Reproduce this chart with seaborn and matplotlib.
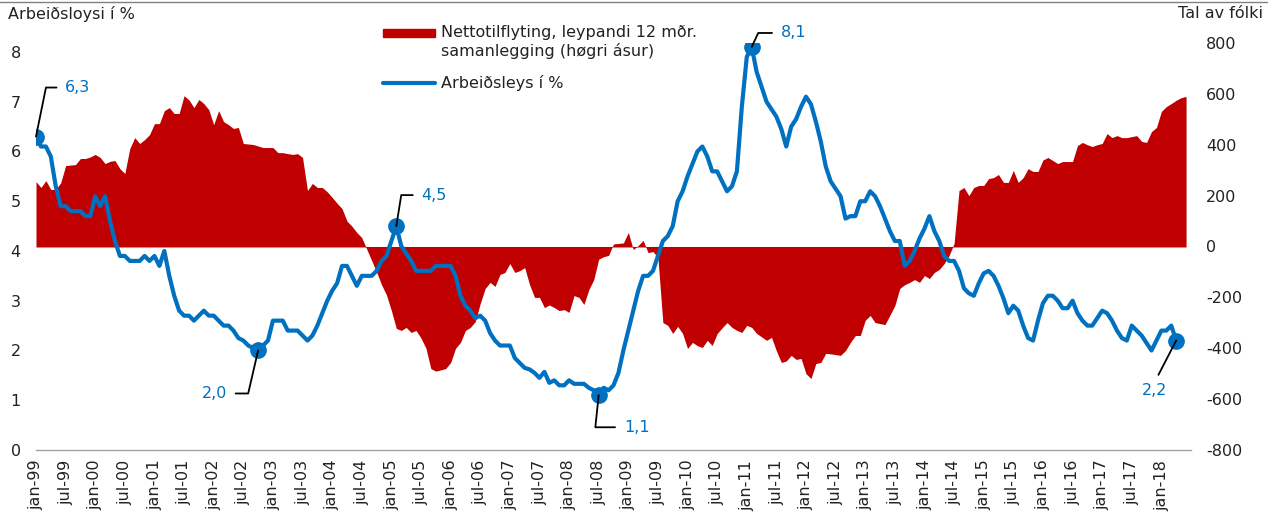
# plot.py
import numpy as np
import pandas as pd
import matplotlib
matplotlib.use('Agg')  # no display
import matplotlib.pyplot as plt
import seaborn as sns
from matplotlib.lines import Line2D
from matplotlib.patches import Rectangle

# Arbeiðsloysi í %, monthly from jan-99 to apr-18
unemployment = [
    6.3, 6.1, 6.1, 5.9, 5.3, 4.9, 4.9, 4.8, 4.8, 4.8, 4.7, 4.7,
    5.1, 4.9, 5.1, 4.6, 4.2, 3.9, 3.9, 3.8, 3.8, 3.8, 3.9, 3.8,
    3.9, 3.7, 4.0, 3.5, 3.1, 2.8, 2.7, 2.7, 2.6, 2.7, 2.8, 2.7,
    2.7, 2.6, 2.5, 2.5, 2.4, 2.25, 2.2, 2.1, 2.05, 2.0, 2.1, 2.2,
    2.6, 2.6, 2.6, 2.4, 2.4, 2.4, 2.3, 2.2, 2.3, 2.5, 2.75, 3.0,
    3.2, 3.35, 3.7, 3.7, 3.5, 3.3, 3.5, 3.5, 3.5, 3.6, 3.8, 3.9,
    4.2, 4.5, 4.1, 3.95, 3.8, 3.6, 3.6, 3.6, 3.6, 3.7, 3.7, 3.7,
    3.7, 3.5, 3.1, 2.9, 2.8, 2.65, 2.7, 2.6, 2.35, 2.2, 2.1, 2.1,
    2.1, 1.85, 1.75, 1.65, 1.62, 1.55, 1.45, 1.57, 1.35, 1.4, 1.3, 1.3,
    1.4, 1.33, 1.33, 1.33, 1.25, 1.2, 1.1, 1.25, 1.2, 1.3, 1.55, 2.0,
    2.4, 2.8, 3.2, 3.5, 3.5, 3.6, 3.9, 4.2, 4.3, 4.5, 5.0, 5.2,
    5.5, 5.75, 6.0, 6.1, 5.9, 5.6, 5.6, 5.4, 5.2, 5.3, 5.6, 6.9,
    7.9, 8.1, 7.6, 7.3, 7.0, 6.85, 6.7, 6.45, 6.1, 6.5, 6.65, 6.9,
    7.1, 6.95, 6.6, 6.2, 5.7, 5.4, 5.25, 5.1, 4.65, 4.7, 4.7, 5.0,
    5.0, 5.2, 5.1, 4.9, 4.65, 4.4, 4.2, 4.2, 3.7, 3.8, 4.0, 4.25,
    4.45, 4.7, 4.4, 4.2, 3.9, 3.8, 3.8, 3.6, 3.25, 3.15, 3.1, 3.35,
    3.55, 3.6, 3.5, 3.3, 3.05, 2.75, 2.9, 2.8, 2.5, 2.25, 2.2, 2.6,
    2.95, 3.1, 3.1, 3.0, 2.85, 2.85, 3.0, 2.75, 2.6, 2.5, 2.5, 2.65,
    2.8, 2.75, 2.6, 2.4, 2.25, 2.2, 2.5, 2.4, 2.3, 2.15, 2.0, 2.2,
    2.4, 2.4, 2.5, 2.2,
]

# Nettotilflyting, rolling 12 month sum, monthly from jan-99 to jun-18
net_migration = [
    255, 232, 259, 224, 225, 250, 318, 320, 322, 346, 346, 352,
    362, 350, 326, 335, 338, 306, 287, 385, 428, 405, 420, 440,
    483, 483, 534, 546, 523, 523, 593, 576, 546, 578, 562, 538,
    479, 534, 491, 479, 464, 468, 405, 403, 401, 395, 389, 389,
    389, 369, 369, 365, 362, 365, 350, 220, 248, 232, 232, 215,
    193, 170, 149, 100, 80, 55, 35, -10, -55, -100, -150, -190,
    -252, -322, -330, -318, -338, -330, -360, -400, -480, -490, -485, -480,
    -456, -400, -377, -330, -318, -295, -224, -165, -141, -157, -110, -102,
    -67, -102, -95, -83, -150, -200, -200, -240, -230, -240, -252, -248,
    -259, -193, -200, -228, -170, -130, -50, -40, -35, 10, 12, 14,
    55, -12, 4, 24, -24, -20, -43, -299, -310, -342, -314, -342,
    -401, -377, -390, -397, -369, -389, -342, -320, -299, -318, -330, -338,
    -310, -318, -342, -355, -369, -357, -410, -456, -450, -428, -444, -440,
    -500, -519, -460, -456, -420, -422, -425, -428, -409, -377, -350, -350,
    -290, -271, -299, -303, -307, -270, -232, -165, -150, -141, -130, -141,
    -114, -126, -102, -90, -67, -35, 12, 220, 232, 200, 232, 240,
    240, 267, 271, 283, 252, 252, 299, 252, 271, 306, 295, 295,
    340, 350, 338, 326, 334, 334, 334, 397, 409, 400, 393, 400,
    405, 444, 428, 436, 428, 428, 432, 436, 413, 409, 452, 468,
    531, 550, 562, 575, 585, 590,
]

years = list(range(1999, 2019))
tick_labels = [f"{m}-{y % 100:02d}" for y in years for m in ("jan", "jul")][:39]

# highlighted points on the unemployment line (month index)
highlight_idx = [0, 45, 73, 114, 145, 231]

RED = '#C00000'
BLUE = '#0070C0'
TXT = '#222222'

sns.set_style('white')
plt.rcParams['font.family'] = ['DejaVu Sans']
plt.rcParams['font.size'] = 11.5
plt.rcParams['axes.unicode_minus'] = False

W, H = 1279, 517
fig = plt.figure(figsize=(W / 100, H / 100), dpi=100)
ax = fig.add_axes([36 / W, 1 - 450 / H, 1155 / W, 407 / H])
ax2 = ax.twinx()

df_u = pd.DataFrame({'month': np.arange(len(unemployment)), 'value': unemployment})
df_m = pd.DataFrame({'month': np.arange(len(net_migration)), 'value': net_migration})

# area on the right axis
ax2.fill_between(df_m['month'], 0, df_m['value'], color=RED, linewidth=0)
ax2.hlines(0, 0, len(net_migration) - 1, color=RED, lw=0.8, alpha=0.5)
ax2.set_ylim(-800, 800)
ax2.set_yticks(range(-800, 801, 200))
ax2.set_ylabel('')

# line on the left axis, drawn above the area
ax.set_zorder(ax2.get_zorder() + 1)
ax.patch.set_visible(False)
sns.lineplot(data=df_u, x='month', y='value', ax=ax, color=BLUE, linewidth=3)
pts = df_u.loc[highlight_idx]
ax.plot(pts['month'], pts['value'], 'o', color=BLUE, markersize=11, zorder=4)
ax.set_ylim(0, 8.18)
ax.set_yticks(range(0, 9))
ax.set_xlim(0, 234)
ax.set_xticks(range(0, 235, 6))
ax.set_xticklabels(tick_labels + [''])
ax.set_xlabel('')
ax.set_ylabel('')

for a in (ax, ax2):
    for s in a.spines.values():
        s.set_visible(False)
ax.spines['bottom'].set_visible(True)
ax.spines['bottom'].set_color('#A0A0A0')
ax.spines['bottom'].set_linewidth(1)
ax.tick_params(axis='x', length=5, width=1, color='#A0A0A0', pad=2,
               labelrotation=90, labelcolor=TXT)
ax.tick_params(axis='y', length=0, pad=11, labelcolor=TXT)
ax2.tick_params(axis='y', length=0, pad=11, labelcolor=TXT)

# callouts: (text offset in pixels, elbow angle, text side)
callouts = {
    0: ((42, 49), 78.5, 'right'),
    45: ((-44, -43), 77, 'left'),
    73: ((38, 31), 81, 'right'),
    114: ((38, -32), 84, 'right'),
    145: ((42, 14), 65, 'right'),
    231: ((-22, -50), None, 'below'),
}
for idx, (off, ang, side) in callouts.items():
    val = unemployment[idx]
    label = f"{val:.1f}".replace('.', ',')
    if ang is None:
        arrow = dict(arrowstyle='-', color='black', lw=1.3, relpos=(0.5, 1),
                     shrinkA=4, shrinkB=0)
    else:
        arrow = dict(arrowstyle='-', color='black', lw=1.3,
                     relpos=(0, 0.5) if side == 'right' else (1, 0.5),
                     connectionstyle=f'angle,angleA=0,angleB={ang},rad=0',
                     shrinkA=4, shrinkB=0)
    ax.annotate(label, xy=(idx, val), xytext=off, textcoords='offset pixels',
                ha='center', va='center', color=BLUE, fontsize=11.5,
                arrowprops=arrow, zorder=5)

# axis titles
fig.text(8 / W, 1 - 14 / H, 'Arbeiðsloysi í %', ha='left', va='center', color=TXT)
fig.text(1263 / W, 1 - 14 / H, 'Tal av fólki', ha='right', va='center', color=TXT)

# legend
fig.add_artist(Rectangle((383 / W, 1 - 37 / H), 52 / W, 8 / H,
                         transform=fig.transFigure, color=RED))
fig.text(441 / W, 1 - 25 / H, 'Nettotilflyting, leypandi 12 mðr.\nsamanlegging (høgri ásur)',
         ha='left', va='top', color=TXT)
fig.add_artist(Line2D([383 / W, 435 / W], [1 - 83 / H] * 2, color=BLUE, lw=3,
                      transform=fig.transFigure))
fig.text(441 / W, 1 - 83 / H, 'Arbeiðsleys í %', ha='left', va='center', color=TXT)

# thin rule at the top
fig.add_artist(Line2D([0, 1267 / W], [1 - 2 / H] * 2, color='#808080', lw=1,
                      transform=fig.transFigure))

fig.savefig('out.png', dpi=100)
plt.close(fig)
